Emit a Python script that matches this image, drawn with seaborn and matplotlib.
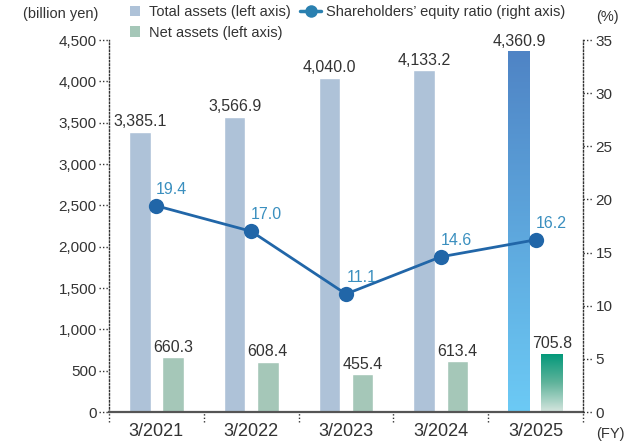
import numpy as np
import pandas as pd
import matplotlib
matplotlib.use("Agg")
import matplotlib.pyplot as plt
from matplotlib.patches import Patch
from matplotlib.lines import Line2D
from matplotlib.colors import LinearSegmentedColormap
import seaborn as sns

# data
years = ["3/2021", "3/2022", "3/2023", "3/2024", "3/2025"]
total_assets = [3385.1, 3566.9, 4040.0, 4133.2, 4360.9]
net_assets = [660.3, 608.4, 455.4, 613.4, 705.8]
equity_ratio = [19.4, 17.0, 11.1, 14.6, 16.2]
left_ticks = list(range(0, 4501, 500))
right_ticks = list(range(0, 36, 5))

c_total = "#aec2d8"
c_net = "#a5c7b8"
c_line = "#2166a8"
c_line_lbl = "#3a8fbf"
c_text = "#333333"

sns.set_style("white")
plt.rcParams["font.family"] = ["Liberation Sans", "DejaVu Sans"]

df = pd.DataFrame({
    "year": years * 2,
    "series": ["Total"] * len(years) + ["Net"] * len(years),
    "value": total_assets + net_assets,
})

fig = plt.figure(figsize=(6.39, 4.46), dpi=100)
ax = fig.add_axes([109 / 639, 34 / 446, 474 / 639, 372 / 446])

sns.barplot(data=df, x="year", y="value", hue="series", palette=[c_total, c_net],
            width=0.7, gap=0.35, ax=ax, legend=False, saturation=1)

ax.set_xlim(-0.5, len(years) - 0.5)
ax.set_ylim(0, 4500)
ax.set_yticks(left_ticks)
ax.set_yticklabels([f"{v:,}" for v in left_ticks])
ax.set_xlabel("")
ax.set_ylabel("")

# bar value labels
for cont, vals in zip(ax.containers, [total_assets, net_assets]):
    ax.bar_label(cont, labels=[f"{v:,.1f}" for v in vals], padding=2,
                 fontsize=11.5, color=c_text)

# gradient for latest year bars
grads = [
    LinearSegmentedColormap.from_list("g1", ["#6ccaf5", "#4f84c5"]),
    LinearSegmentedColormap.from_list("g2", ["#d6e6df", "#5fb39b", "#009879"]),
]
for cont, cmap in zip(ax.containers, grads):
    p = cont.patches[-1]
    x0, y0 = p.get_x(), p.get_y()
    w, h = p.get_width(), p.get_height()
    p.set_facecolor("none")
    grad = np.linspace(0, 1, 256).reshape(-1, 1)
    im = ax.imshow(grad, extent=(x0, x0 + w, y0, y0 + h), origin="lower",
                   aspect="auto", cmap=cmap, zorder=p.get_zorder())
    im.set_clip_path(p)
ax.set_xlim(-0.5, len(years) - 0.5)
ax.set_ylim(0, 4500)

# spines
ax.spines["top"].set_visible(False)
ax.spines["right"].set_visible(False)
ax.spines["left"].set_linestyle((0, (1, 1.5)))
ax.spines["left"].set_color(c_text)
ax.spines["left"].set_linewidth(1)
ax.spines["bottom"].set_color("#555555")
ax.spines["bottom"].set_linewidth(1.6)
ax.tick_params(axis="y", length=0, pad=9, labelsize=11, labelcolor=c_text)
ax.tick_params(axis="x", length=0, pad=8, labelsize=13, labelcolor=c_text)

# dotted y ticks
ytr = ax.get_yaxis_transform()
for v in left_ticks:
    ax.plot([-0.022, 0], [v, v], transform=ytr, ls=(0, (1, 1.5)), lw=1,
            color=c_text, clip_on=False)
# dotted category separators
xtr = ax.get_xaxis_transform()
for b in np.arange(-0.5, len(years), 1.0):
    ax.plot([b, b], [-0.027, 0], transform=xtr, ls=(0, (1, 1.5)), lw=1,
            color=c_text, clip_on=False)

# right axis line
ax2 = ax.twinx()
sns.lineplot(x=np.arange(len(years)), y=equity_ratio, ax=ax2, color=c_line,
             linewidth=2, marker="o", markersize=11, markeredgecolor=c_line,
             markeredgewidth=0)
ax2.set_ylim(0, 35)
ax2.set_yticks(right_ticks)
ax2.set_xlim(-0.5, len(years) - 0.5)
for s in ["top", "left", "bottom"]:
    ax2.spines[s].set_visible(False)
ax2.spines["right"].set_linestyle((0, (1, 1.5)))
ax2.spines["right"].set_color(c_text)
ax2.spines["right"].set_linewidth(1)
ax2.tick_params(axis="y", length=0, pad=9, labelsize=11, labelcolor=c_text)
ytr2 = ax2.get_yaxis_transform()
for v in right_ticks:
    ax2.plot([1, 1.022], [v, v], transform=ytr2, ls=(0, (1, 1.5)), lw=1,
             color=c_text, clip_on=False)

for i, v in enumerate(equity_ratio):
    ax2.annotate(f"{v:.1f}", (i, v), xytext=(11, 12), textcoords="offset points",
                 ha="center", va="center", fontsize=11.5, color=c_line_lbl)

# legends
h1 = [Patch(facecolor=c_total, edgecolor="none"),
      Patch(facecolor=c_net, edgecolor="none")]
fig.legend(h1, ["Total assets (left axis)", "Net assets (left axis)"],
           loc="upper left", bbox_to_anchor=(130 / 639, 1 - 5 / 446),
           frameon=False, fontsize=10.5, handlelength=0.7, handleheight=0.7,
           handletextpad=0.6, labelspacing=0.45, borderpad=0, borderaxespad=0,
           labelcolor=c_text)
h2 = [Line2D([0], [0], color="#2a80b0", lw=2.5, marker="o", markersize=9,
             markeredgewidth=0)]
fig.legend(h2, ["Shareholders\u2019 equity ratio (right axis)"],
           loc="upper left", bbox_to_anchor=(300 / 639, 1 - 5 / 446),
           frameon=False, fontsize=10.5, handlelength=1.45, handletextpad=0.35,
           borderpad=0, borderaxespad=0, labelcolor=c_text)

fig.text(98 / 639, 1 - 14 / 446, "(billion yen)", ha="right", va="center",
         fontsize=10.5, color=c_text)
fig.text(596 / 639, 1 - 17 / 446, "(%)", ha="left", va="center",
         fontsize=10.5, color=c_text)
fig.text(596 / 639, 1 - 434 / 446, "(FY)", ha="left", va="center",
         fontsize=10.5, color=c_text)

fig.savefig("out.png", dpi=100)
